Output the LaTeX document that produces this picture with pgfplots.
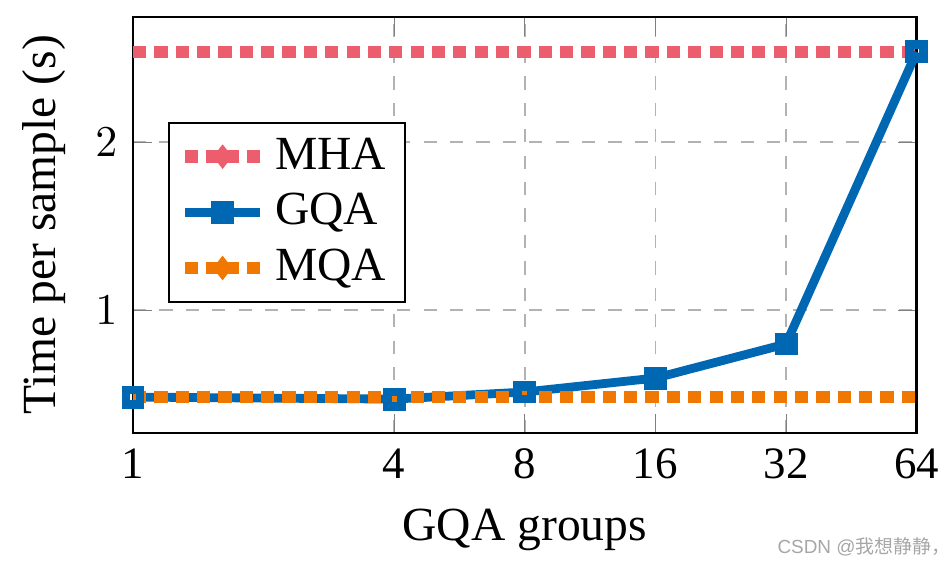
\documentclass[border=0pt]{standalone}
\usepackage{fontspec}
\setmainfont{Liberation Serif}
\newfontfamily\cjk{Noto Sans CJK SC}
\newfontfamily\wmsans{Liberation Sans}
\usepackage{pgfplots}
\pgfplotsset{compat=1.18}
\definecolor{mha}{RGB}{236,93,110}
\definecolor{gqa}{RGB}{0,104,178}
\definecolor{mqa}{RGB}{240,120,0}
\begin{document}
\begin{tikzpicture}
\begin{axis}[
  width=178pt, height=94.5pt, scale only axis,
  xmode=log, log basis x=2,
  xmin=1, xmax=64, ymin=0.268, ymax=2.744,
  xtick={1,4,8,16,32,64}, xticklabels={1,4,8,16,32,64},
  ytick={1,2},
  grid=major,
  grid style={dashed, gray!60, line width=0.4pt},
  axis line style={black, line width=0.6pt},
  xticklabel style={font=\fontsize{10.2pt}{12pt}\selectfont},
  yticklabel style={font=\fontsize{10.2pt}{12pt}\selectfont},
  label style={font=\fontsize{10.8pt}{13pt}\selectfont},
  xlabel={GQA groups}, ylabel={Time per sample (s)},
  legend style={at={(0.045,0.748)}, anchor=north west, draw=black,
    font=\fontsize{10.8pt}{13pt}\selectfont, inner sep=2.2pt, inner ysep=1.4pt},
  legend cell align=left,
  clip=false,
]
\addplot[mha, line width=2.9pt, dash pattern=on 3pt off 1.85pt,
  legend image code/.code={
    \path[draw=none] (-1.45pt,0pt) -- (18.45pt,0pt);
    \fill[mha, draw=none] (0pt,-1.45pt) rectangle (2.9pt,1.45pt);
    \fill[mha, draw=none] (4.8pt,-1.45pt) rectangle (12.2pt,1.45pt);
    \fill[mha, draw=none] (14.1pt,-1.45pt) rectangle (17pt,1.45pt);
    \fill[mha, draw=none] (8.5pt,2.8pt) -- (10.7pt,0pt) -- (8.5pt,-2.8pt) -- (6.3pt,0pt) -- cycle;
  }] coordinates {(1,2.536) (64,2.536)};
\addlegendentry{MHA}
\addplot[gqa, line width=2pt, mark=square, mark size=1.6pt,
  mark options={solid, line width=2pt}] coordinates {
  (1,0.482) (4,0.47) (8,0.512) (16,0.595) (32,0.798) (64,2.536)};
\addlegendentry{GQA}
\addplot[mqa, line width=2.9pt, dash pattern=on 3pt off 1.85pt,
  legend image code/.code={
    \path[draw=none] (-1.45pt,0pt) -- (18.45pt,0pt);
    \fill[mqa, draw=none] (0pt,-1.45pt) rectangle (2.9pt,1.45pt);
    \fill[mqa, draw=none] (4.8pt,-1.45pt) rectangle (12.2pt,1.45pt);
    \fill[mqa, draw=none] (14.1pt,-1.45pt) rectangle (17pt,1.45pt);
    \fill[mqa, draw=none] (8.5pt,2.8pt) -- (10.7pt,0pt) -- (8.5pt,-2.8pt) -- (6.3pt,0pt) -- cycle;
  }] coordinates {(1,0.482) (64,0.482)};
\addlegendentry{MQA}
\node[anchor=base east, font=\fontsize{4.3pt}{5pt}\selectfont\wmsans, text=gray!70, inner sep=0pt]
  at (rel axis cs:1.044,-0.29) {CSDN @{\cjk 我想静静，}};
\end{axis}
\pgfresetboundingbox
\path (current axis.south west) ++(-30.2pt,-30.65pt) rectangle ++(216pt,129pt);
\end{tikzpicture}
\end{document}
